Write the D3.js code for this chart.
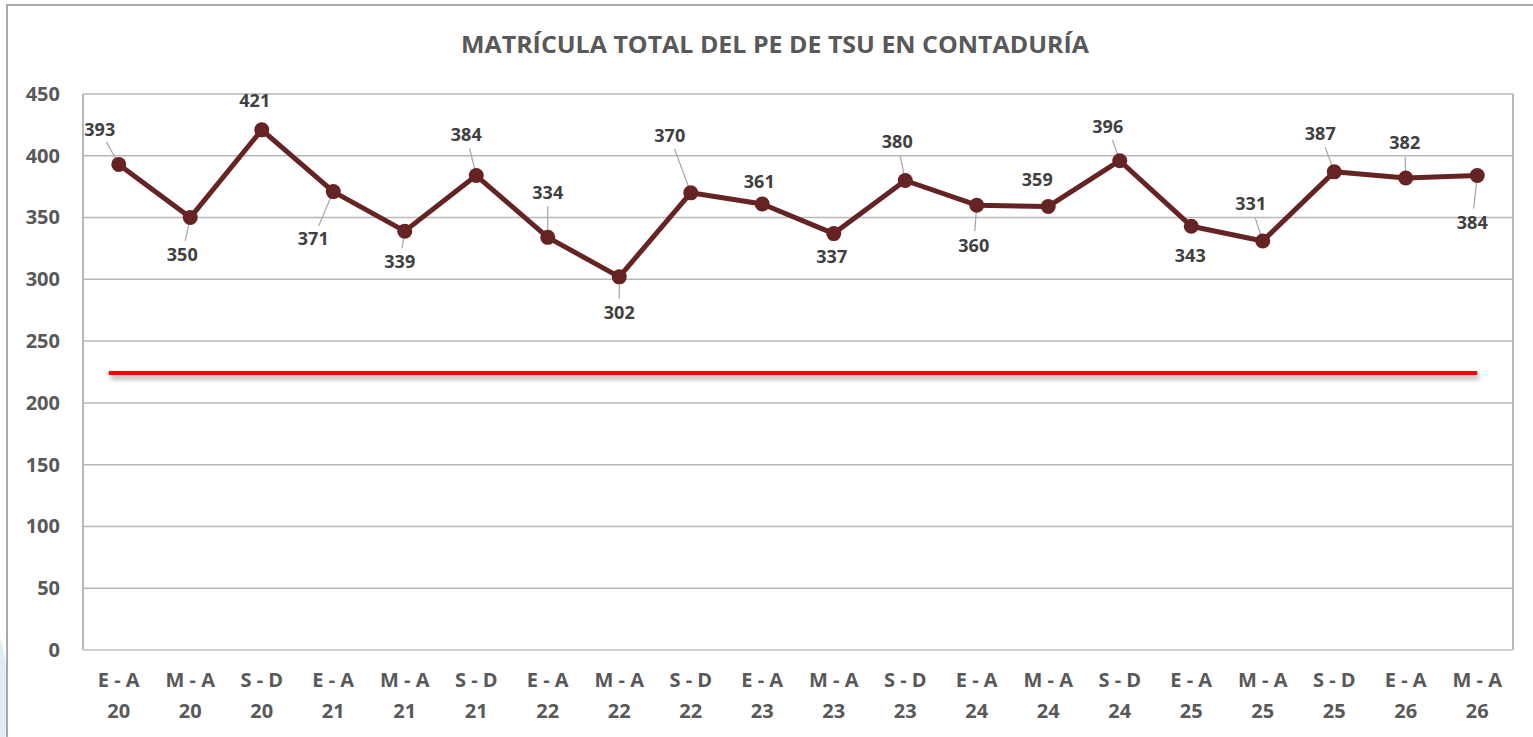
<!DOCTYPE html>
<html>
<head>
<meta charset="utf-8">
<script src="https://cdn.jsdelivr.net/npm/d3@7"></script>
<style>
  html, body { margin: 0; padding: 0; background: #fff; }
  svg { display: block; }
</style>
</head>
<body>
<div id="chart"></div>
<script>
"use strict";

const periods = ["E - A", "M - A", "S - D", "E - A", "M - A", "S - D", "E - A", "M - A", "S - D", "E - A",
  "M - A", "S - D", "E - A", "M - A", "S - D", "E - A", "M - A", "S - D", "E - A", "M - A"];
const years = ["20", "20", "20", "21", "21", "21", "22", "22", "22", "23",
  "23", "23", "24", "24", "24", "25", "25", "25", "26", "26"];
const matricula = [393, 350, 421, 371, 339, 384, 334, 302, 370, 361,
  337, 380, 360, 359, 396, 343, 331, 387, 382, 384];
const meta = 225;
const yTicks = [0, 50, 100, 150, 200, 250, 300, 350, 400, 450];

// label offsets (dx, dy) from each point, in px
const labelOffsets = [
  [-19, -35], [-8, 37], [-7, -29], [-20, 47], [-5, 31], [-10, -41], [0, -45], [0, 36], [-21, -57], [-3, -22],
  [-2, 23], [-8, -39], [-3, 40], [-11, -27], [-12, -34], [-1, 29], [-12, -37], [-14, -38], [-1, -35], [-5, 47]
];

const width = 1533;
const height = 737;
const margin = { top: 94, right: 20, bottom: 87, left: 83 };
const font = "'Open Sans', sans-serif";

const svg = d3.select("#chart")
  .append("svg")
  .attr("width", width)
  .attr("height", height)
;

// faint blue shape bottom-left
svg.append("ellipse")
  .attr("cx", -20)
  .attr("cy", 700)
  .attr("rx", 28)
  .attr("ry", 90)
  .attr("fill", "#d7e9f2")
  .attr("opacity", 0.8)
;

// chart frame
svg.append("rect")
  .attr("x", 7)
  .attr("y", 5)
  .attr("width", width + 20)
  .attr("height", height + 20)
  .attr("fill", "#fff")
  .attr("stroke", "#a9a9a9")
  .attr("stroke-width", 2)
;

const defs = svg.append("defs");
const shadow = defs.append("filter")
  .attr("id", "shadow")
  .attr("x", "-5%").attr("y", "-200%")
  .attr("width", "110%").attr("height", "500%");
shadow.append("feDropShadow")
  .attr("dx", 2).attr("dy", 4)
  .attr("stdDeviation", 2.5)
  .attr("flood-color", "#000")
  .attr("flood-opacity", 0.35);

const plotRight = 1513;
const x = d3.scaleBand()
  .domain(d3.range(matricula.length))
  .range([margin.left, plotRight])
;
const cx = i => x(i) + x.bandwidth() / 2;

const y = d3.scaleLinear()
  .domain([0, 450])
  .range([height - margin.bottom, margin.top])
;

// title
svg.append("text")
  .attr("x", 775)
  .attr("y", 53)
  .attr("text-anchor", "middle")
  .attr("font-family", font)
  .attr("font-weight", "bold")
  .attr("font-size", 23)
  .attr("fill", "#595959")
  .attr("textLength", 628)
  .attr("lengthAdjust", "spacingAndGlyphs")
  .text("MATRÍCULA TOTAL DEL PE DE TSU EN CONTADURÍA")
;

// gridlines
svg.append("g")
  .selectAll("line")
  .data(yTicks)
  .enter()
  .append("line")
  .attr("x1", margin.left)
  .attr("x2", plotRight)
  .attr("y1", d => y(d))
  .attr("y2", d => y(d))
  .attr("stroke", "#b8b8b8")
  .attr("stroke-width", 1.5)
;

// plot border sides
svg.append("line")
  .attr("x1", margin.left).attr("x2", margin.left)
  .attr("y1", y(450)).attr("y2", y(0))
  .attr("stroke", "#b8b8b8").attr("stroke-width", 2);
svg.append("line")
  .attr("x1", plotRight).attr("x2", plotRight)
  .attr("y1", y(450)).attr("y2", y(0))
  .attr("stroke", "#b8b8b8").attr("stroke-width", 2);
svg.append("line")
  .attr("x1", margin.left).attr("x2", plotRight)
  .attr("y1", y(0)).attr("y2", y(0))
  .attr("stroke", "#d0d0d0").attr("stroke-width", 2);

// y axis
const yAxis = d3.axisLeft(y).tickValues(yTicks).tickSize(0).tickPadding(23);
svg.append("g")
  .attr("transform", `translate(${margin.left}, 0)`)
  .call(yAxis)
  .call(g => g.select(".domain").remove())
  .call(g => g.selectAll("text")
    .attr("font-family", font)
    .attr("font-weight", "bold")
    .attr("font-size", 20)
    .attr("fill", "#595959"))
;

// x axis labels
const xLabels = svg.append("g")
  .selectAll("text")
  .data(periods)
  .enter()
  .append("text")
  .attr("text-anchor", "middle")
  .attr("font-family", font)
  .attr("font-weight", "bold")
  .attr("font-size", 20)
  .attr("fill", "#595959")
;
xLabels.append("tspan")
  .attr("x", (d, i) => cx(i))
  .attr("y", 687)
  .text(d => d);
xLabels.append("tspan")
  .attr("x", (d, i) => cx(i))
  .attr("y", 718)
  .text((d, i) => years[i]);

// meta line (rect so the drop shadow has a non-empty box)
svg.append("rect")
  .attr("x", cx(0) - 10)
  .attr("y", y(meta) - 1)
  .attr("width", cx(matricula.length - 1) - cx(0) + 10)
  .attr("height", 4)
  .attr("fill", "#ff0000")
  .attr("filter", "url(#shadow)")
;

// leader lines
svg.append("g")
  .selectAll("line")
  .data(matricula)
  .enter()
  .append("line")
  .attr("x1", (d, i) => cx(i))
  .attr("y1", d => y(d))
  .attr("x2", (d, i) => {
    const [dx, dy] = labelOffsets[i];
    const len = Math.hypot(dx, dy);
    return cx(i) + dx * (len - 14) / len;
  })
  .attr("y2", (d, i) => {
    const [dx, dy] = labelOffsets[i];
    const len = Math.hypot(dx, dy);
    return y(d) + dy * (len - 14) / len;
  })
  .attr("stroke", "#a6a6a6")
  .attr("stroke-width", 1.2)
  .style("display", (d, i) => Math.hypot(...labelOffsets[i]) > 30 ? null : "none")
;

// line
const line = d3.line()
  .x((d, i) => cx(i))
  .y(d => y(d))
;
svg.append("path")
  .datum(matricula)
  .attr("d", line)
  .attr("fill", "none")
  .attr("stroke", "#652423")
  .attr("stroke-width", 5)
  .attr("stroke-linejoin", "round")
;

svg.append("g")
  .selectAll("circle")
  .data(matricula)
  .enter()
  .append("circle")
  .attr("cx", (d, i) => cx(i))
  .attr("cy", d => y(d))
  .attr("r", 7.5)
  .attr("fill", "#652423")
;

// data labels
svg.append("g")
  .selectAll("text")
  .data(matricula)
  .enter()
  .append("text")
  .attr("x", (d, i) => cx(i) + labelOffsets[i][0])
  .attr("y", (d, i) => y(d) + labelOffsets[i][1])
  .attr("dy", "0.35em")
  .attr("text-anchor", "middle")
  .attr("font-family", font)
  .attr("font-weight", "bold")
  .attr("font-size", 18)
  .attr("fill", "#404040")
  .text(d => d)
;
</script>
</body>
</html>
